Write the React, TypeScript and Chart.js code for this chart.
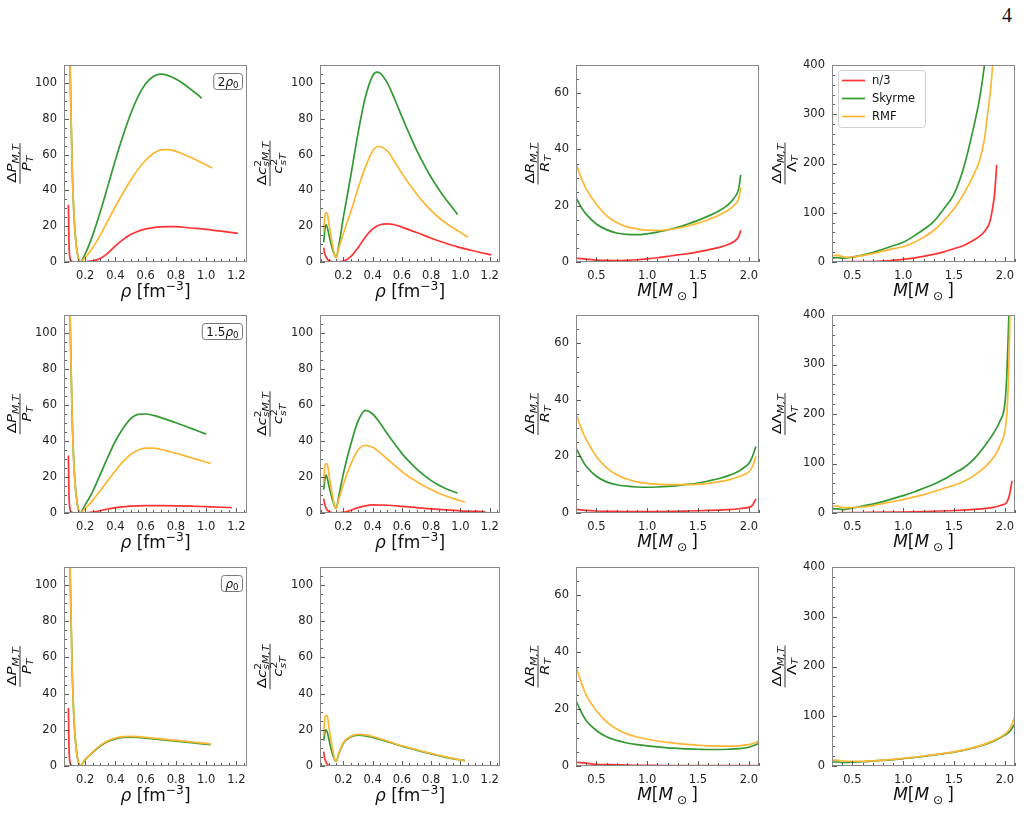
import React, { useEffect, useRef } from 'react';
import { Chart, registerables } from 'chart.js';
Chart.register(...registerables);

const RED = '#ff3333';
const GREEN = '#339933';
const ORANGE = '#ffb733';
const SERIES_NAMES = ['n/3', 'Skyrme', 'RMF'];

const RHO_TICKS = [0.2, 0.4, 0.6, 0.8, 1.0, 1.2];
const MASS_TICKS = [0.5, 1.0, 1.5, 2.0];
const P_TICKS = [0, 20, 40, 60, 80, 100];
const R_TICKS = [0, 20, 40, 60];
const L_TICKS = [0, 100, 200, 300, 400];

// ---------- ΔP/P  (column 1) ----------
const Pa_red_x = [0.089, 0.092, 0.095, 0.1, 0.11, 0.13, 0.16, 0.2, 0.25, 0.3, 0.35, 0.4, 0.45, 0.5, 0.55, 0.6, 0.65, 0.7, 0.75, 0.8, 0.85, 0.9, 1.0, 1.1, 1.21];
const Pa_red_y = [32, 15, 6, 2, 0.5, 0.1, 0, 0.2, 0.6, 2, 5, 9, 12.5, 15.3, 17.2, 18.5, 19.2, 19.6, 19.8, 19.7, 19.4, 19, 18.2, 17.2, 16];
const Pa_sky_x = [0.08, 0.09, 0.1, 0.107, 0.115, 0.125, 0.14, 0.155, 0.165, 0.2, 0.25, 0.3, 0.35, 0.4, 0.45, 0.5, 0.55, 0.6, 0.65, 0.7, 0.75, 0.8, 0.85, 0.9, 0.95, 0.97];
const Pa_sky_y = [300, 180, 110, 80, 50, 28, 10, 2, 0, 4.5, 15, 28, 42.5, 57, 70.5, 82.5, 92.5, 99.5, 103.6, 104.9, 104.1, 102.2, 99.5, 96.3, 93, 91.3];
const Pa_rmf_x = [0.08, 0.09, 0.1, 0.107, 0.115, 0.125, 0.14, 0.155, 0.165, 0.2, 0.25, 0.3, 0.35, 0.4, 0.45, 0.5, 0.55, 0.6, 0.65, 0.7, 0.75, 0.8, 0.85, 0.9, 0.95, 1.0, 1.04];
const Pa_rmf_y = [300, 180, 110, 80, 50, 28, 10, 2, 0, 2.5, 8, 15, 23, 31, 38.5, 45.5, 51.8, 56.8, 60.6, 62.6, 62.8, 61.8, 60.2, 58.3, 56.3, 54.2, 52.5];

const Pb_red_x = [0.089, 0.092, 0.095, 0.1, 0.11, 0.13, 0.16, 0.2, 0.25, 0.3, 0.35, 0.4, 0.5, 0.6, 0.7, 0.8, 0.9, 1.0, 1.1, 1.17];
const Pb_red_y = [32, 15, 6, 2, 0.5, 0.1, 0, 0.1, 0.5, 1.3, 2.2, 3, 3.8, 4.1, 4.1, 4, 3.8, 3.5, 3.2, 3];
const Pb_sky_x = [0.08, 0.09, 0.1, 0.107, 0.115, 0.125, 0.14, 0.155, 0.165, 0.2, 0.25, 0.3, 0.35, 0.4, 0.45, 0.5, 0.55, 0.6, 0.65, 0.7, 0.75, 0.8, 0.85, 0.9, 0.95, 1.0];
const Pb_sky_y = [300, 180, 110, 80, 50, 28, 10, 2, 0, 4.5, 12, 21.5, 31, 40, 47, 52.3, 54.8, 55, 54.2, 53, 51.6, 50.1, 48.6, 47, 45.4, 43.8];
const Pb_rmf_x = [0.08, 0.09, 0.1, 0.107, 0.115, 0.125, 0.14, 0.155, 0.165, 0.2, 0.25, 0.3, 0.35, 0.4, 0.45, 0.5, 0.55, 0.6, 0.65, 0.7, 0.75, 0.8, 0.85, 0.9, 0.95, 1.0, 1.03];
const Pb_rmf_y = [300, 180, 110, 80, 50, 28, 10, 2, 0, 2.5, 7, 12.5, 18, 23.5, 28.5, 32.5, 35, 36, 36, 35.3, 34.3, 33.2, 32, 30.7, 29.5, 28.2, 27.5];

const Pc_red_x = [0.089, 0.092, 0.095, 0.1, 0.11, 0.13, 0.16, 0.3, 0.5, 0.8, 1.0, 1.12];
const Pc_red_y = [32, 15, 6, 2, 0.3, 0, 0, 0, 0, 0, 0, 0];
const Pc_sky_x = [0.08, 0.09, 0.1, 0.107, 0.115, 0.125, 0.14, 0.155, 0.165, 0.2, 0.25, 0.3, 0.35, 0.4, 0.45, 0.5, 0.55, 0.6, 0.7, 0.8, 0.9, 1.0, 1.03];
const Pc_sky_y = [300, 180, 110, 80, 50, 28, 10, 2, 0, 3.5, 7.5, 11, 13.5, 15, 15.8, 16, 15.8, 15.4, 14.6, 13.8, 12.9, 12.1, 11.8];
const Pc_rmf_x = [0.08, 0.09, 0.1, 0.107, 0.115, 0.125, 0.14, 0.155, 0.165, 0.2, 0.25, 0.3, 0.35, 0.4, 0.45, 0.5, 0.55, 0.6, 0.7, 0.8, 0.9, 1.0, 1.03];
const Pc_rmf_y = [300, 180, 110, 80, 50, 28, 10, 2, 0, 3.7, 7.8, 11.4, 13.9, 15.4, 16.2, 16.4, 16.2, 15.8, 15, 14.2, 13.3, 12.5, 12.2];

// ---------- Δc_s²/c_s²  (column 2) ----------
const Ca_red_x = [0.065, 0.07, 0.08, 0.09, 0.1, 0.12, 0.15, 0.2, 0.25, 0.3, 0.35, 0.4, 0.45, 0.5, 0.55, 0.6, 0.7, 0.8, 0.9, 1.0, 1.1, 1.21];
const Ca_red_y = [8, 5.5, 3, 1.5, 0.8, 0.3, 0.1, 0.5, 3, 8, 14, 18.5, 20.8, 21.3, 20.8, 19.5, 16.5, 13.3, 10.5, 8, 6, 4];
const Ca_sky_x = [0.065, 0.075, 0.082, 0.095, 0.11, 0.13, 0.15, 0.17, 0.2, 0.25, 0.3, 0.35, 0.4, 0.43, 0.45, 0.5, 0.55, 0.6, 0.65, 0.7, 0.75, 0.8, 0.85, 0.9, 0.95, 0.98];
const Ca_sky_y = [11, 19, 20.8, 17.5, 12, 6, 2.5, 10, 25, 48, 72, 92, 104, 106, 105.5, 100, 91, 81, 71.5, 62.5, 54.5, 47.2, 40.8, 35, 29.8, 26.5];
const Ca_rmf_x = [0.065, 0.072, 0.08, 0.09, 0.1, 0.12, 0.14, 0.15, 0.17, 0.2, 0.25, 0.3, 0.35, 0.4, 0.44, 0.5, 0.55, 0.6, 0.65, 0.7, 0.75, 0.8, 0.85, 0.9, 0.95, 1.0, 1.05];
const Ca_rmf_y = [17, 25, 27.5, 27, 22, 12, 4, 2.5, 8, 16, 28, 41, 53, 62, 64.5, 62, 56, 49.5, 43.5, 38, 33, 28.7, 25, 21.8, 19, 16.5, 14];

const Cb_red_x = [0.065, 0.07, 0.08, 0.09, 0.1, 0.12, 0.15, 0.2, 0.25, 0.3, 0.35, 0.4, 0.5, 0.6, 0.7, 0.8, 0.9, 1.0, 1.17];
const Cb_red_y = [8, 5.5, 3, 1.5, 0.8, 0.3, 0.1, 0.3, 1.5, 3, 4, 4.5, 4.3, 3.7, 3, 2.3, 1.7, 1.2, 0.7];
const Cb_sky_x = [0.065, 0.075, 0.082, 0.095, 0.11, 0.13, 0.15, 0.17, 0.2, 0.25, 0.3, 0.35, 0.4, 0.45, 0.5, 0.55, 0.6, 0.65, 0.7, 0.75, 0.8, 0.85, 0.9, 0.98];
const Cb_sky_y = [13, 19.5, 21, 17.5, 12, 6, 2.5, 10, 22, 38, 51, 57, 55, 50, 44, 38.5, 33, 28.5, 24.5, 21, 18, 15.5, 13.5, 11];
const Cb_rmf_x = [0.065, 0.072, 0.08, 0.09, 0.1, 0.12, 0.14, 0.15, 0.17, 0.2, 0.25, 0.3, 0.35, 0.4, 0.45, 0.5, 0.55, 0.6, 0.65, 0.7, 0.75, 0.8, 0.85, 0.9, 0.95, 1.03];
const Cb_rmf_y = [17, 25, 27.5, 27, 22, 12, 4, 2.5, 8, 16, 27, 35, 37.5, 36.5, 33.5, 30, 26.5, 23, 20, 17.5, 15, 13, 11, 9.5, 8, 6];

const Cc_red_x = [0.065, 0.07, 0.08, 0.09, 0.1, 0.12, 0.3, 0.6, 1.0, 1.15];
const Cc_red_y = [8, 5, 2.5, 1, 0.4, 0, 0, 0, 0, 0];
const Cc_sky_x = [0.065, 0.075, 0.082, 0.095, 0.11, 0.13, 0.15, 0.17, 0.2, 0.25, 0.3, 0.35, 0.4, 0.5, 0.6, 0.7, 0.8, 0.9, 1.0, 1.03];
const Cc_sky_y = [14, 19, 20, 17, 11.5, 5.5, 2.5, 7, 12.5, 16, 17, 16.7, 15.8, 13.5, 11, 8.8, 6.7, 4.8, 3.3, 3];
const Cc_rmf_x = [0.065, 0.072, 0.08, 0.09, 0.1, 0.12, 0.14, 0.15, 0.17, 0.2, 0.25, 0.3, 0.35, 0.4, 0.5, 0.6, 0.7, 0.8, 0.9, 1.0, 1.03];
const Cc_rmf_y = [17, 26, 28, 27.5, 22, 12, 4, 2.5, 7.5, 13, 16.5, 17.5, 17.2, 16.3, 13.8, 11.2, 9, 6.9, 5, 3.4, 3];

// ---------- ΔR/R  (column 3) ----------
const Ra_x = [0.3, 0.35, 0.4, 0.5, 0.6, 0.7, 0.8, 0.9, 1.0, 1.1, 1.2, 1.3, 1.4, 1.5, 1.6, 1.7, 1.8, 1.85, 1.9, 1.92];
const Ra_red = [1.3, 1.2, 1, 0.7, 0.55, 0.5, 0.6, 0.8, 1.1, 1.5, 2, 2.5, 3, 3.6, 4.3, 5.1, 6.3, 7.2, 9, 11.3];
const Ra_sky = [23, 19.5, 17, 13.5, 11.5, 10.3, 9.8, 9.7, 10, 10.6, 11.4, 12.3, 13.5, 14.8, 16.3, 18, 20.5, 22.5, 26, 31];
const Ra_rmf = [35, 30, 26, 20.5, 16.5, 14, 12.5, 11.8, 11.3, 11.2, 11.5, 12, 12.8, 13.8, 15, 16.5, 18.5, 20, 22.5, 26.5];

const Rb_x = [0.3, 0.35, 0.4, 0.5, 0.6, 0.7, 0.8, 0.9, 1.0, 1.1, 1.2, 1.3, 1.4, 1.5, 1.6, 1.7, 1.8, 1.9, 1.95, 2.0, 2.03, 2.07];
const Rb_red = [1.3, 1.1, 0.9, 0.7, 0.6, 0.55, 0.5, 0.5, 0.5, 0.5, 0.55, 0.6, 0.7, 0.8, 0.9, 1, 1.2, 1.5, 1.7, 2, 2.5, 5];
const Rb_sky = [23, 19.5, 16.5, 13, 11, 10, 9.5, 9.2, 9.1, 9.2, 9.4, 9.7, 10.1, 10.6, 11.3, 12.1, 13.2, 14.8, 16, 17.5, 19.5, 23.5];
const Rb_rmf = [35, 30, 26, 20, 16, 13.5, 12, 11, 10.5, 10.2, 10, 10, 10, 10.2, 10.5, 11, 11.7, 12.8, 13.5, 14.5, 16, 20];

const Rc_x = [0.3, 0.35, 0.4, 0.5, 0.6, 0.7, 0.8, 0.9, 1.0, 1.1, 1.2, 1.3, 1.4, 1.5, 1.6, 1.7, 1.8, 1.9, 2.0, 2.05, 2.1];
const Rc_red = [1.3, 1.2, 1, 0.6, 0.5, 0.4, 0.3, 0.25, 0.2, 0.2, 0.15, 0.15, 0.1, 0.1, 0.1, 0.1, 0.1, 0.1, 0.1, 0.1, 0.1];
const Rc_sky = [23, 19, 16, 12.5, 10.3, 9, 8.1, 7.5, 7.1, 6.7, 6.4, 6.2, 6, 5.9, 5.8, 5.8, 5.9, 6.1, 6.6, 7.2, 8];
const Rc_rmf = [35, 29.5, 25, 19.5, 15.5, 13, 11.3, 10.2, 9.4, 8.8, 8.3, 7.9, 7.6, 7.3, 7.1, 7, 7, 7.1, 7.5, 8, 8.8];

// ---------- ΔΛ/Λ  (column 4) ----------
const La_red_x = [0.3, 0.5, 0.7, 0.8, 0.9, 1.0, 1.1, 1.2, 1.3, 1.4, 1.5, 1.6, 1.7, 1.75, 1.8, 1.85, 1.88, 1.9, 1.92];
const La_red_y = [0.5, 0.6, 1, 2, 3.5, 5.5, 8, 11.5, 15.5, 20.5, 27, 34, 45, 52, 62, 80, 110, 140, 197];
const La_sky_x = [0.3, 0.35, 0.4, 0.45, 0.5, 0.6, 0.7, 0.8, 0.9, 1.0, 1.1, 1.2, 1.3, 1.4, 1.5, 1.6, 1.7, 1.75, 1.8, 1.82];
const La_sky_y = [8, 9, 8, 8.5, 10, 14, 19, 26, 33, 40, 52, 66, 82, 108, 138, 195, 280, 330, 400, 440];
const La_rmf_x = [0.3, 0.35, 0.4, 0.45, 0.5, 0.6, 0.7, 0.8, 0.9, 1.0, 1.1, 1.2, 1.3, 1.4, 1.5, 1.6, 1.7, 1.75, 1.8, 1.83, 1.86, 1.88, 1.9];
const La_rmf_y = [12, 14, 11, 9.5, 10, 13, 17, 22, 27, 31, 39, 50, 64, 84, 108, 140, 180, 205, 250, 300, 350, 400, 460];

const Lb_red_x = [0.3, 0.6, 1.0, 1.3, 1.5, 1.7, 1.8, 1.9, 1.97, 2.02, 2.05, 2.07];
const Lb_red_y = [0.5, 1, 2, 3.5, 5, 7.5, 9, 12, 16, 22, 40, 65];
const Lb_sky_x = [0.3, 0.35, 0.4, 0.5, 0.6, 0.7, 0.8, 0.9, 1.0, 1.1, 1.2, 1.3, 1.4, 1.5, 1.6, 1.7, 1.8, 1.9, 1.95, 2.0, 2.02, 2.04];
const Lb_sky_y = [8, 8.5, 7, 10, 14, 18, 23, 29, 35, 42, 50, 58, 68, 80, 92, 110, 135, 165, 185, 220, 280, 400];
const Lb_rmf_x = [0.3, 0.35, 0.4, 0.5, 0.6, 0.7, 0.8, 0.9, 1.0, 1.1, 1.2, 1.3, 1.4, 1.5, 1.6, 1.7, 1.8, 1.9, 1.95, 2.0, 2.02, 2.04, 2.05];
const Lb_rmf_y = [13, 14, 11, 11, 12.5, 15, 19, 23, 27, 32, 37, 43, 50, 56, 64, 76, 92, 115, 135, 165, 200, 300, 400];

const Lc_x = [0.3, 0.35, 0.4, 0.5, 0.6, 0.7, 0.8, 0.9, 1.0, 1.1, 1.2, 1.3, 1.4, 1.5, 1.6, 1.7, 1.8, 1.9, 2.0, 2.05, 2.1];
const Lc_red = [0.5, 0.5, 0.5, 0.5, 0.5, 0.5, 0.5, 0.5, 0.5, 0.5, 0.5, 0.5, 0.5, 0.5, 0.5, 0.5, 0.5, 0.5, 0.5, 0.5, 0.5];
const Lc_sky = [8, 8, 7, 7.5, 8.5, 10, 11.5, 13, 15, 17, 19.5, 22, 25, 28, 32, 37, 43, 51, 62, 70, 85];
const Lc_rmf = [12, 12, 10, 9.5, 9.5, 10.5, 12, 13.5, 15.5, 17.5, 20, 22.5, 25.5, 28.5, 32.5, 37.5, 44, 52, 64, 75, 100];

// ---------------------------------------------------------------
type Run = { t: string; it?: boolean; sc?: number; dy?: number; noAdv?: boolean };
const FONT = '"DejaVu Sans"';
const fnt = (size: number, it?: boolean) => `${it ? 'italic ' : ''}${size}px ${FONT}`;

function runsWidth(ctx: CanvasRenderingContext2D, runs: Run[], size: number) {
  let w = 0;
  for (const r of runs) {
    ctx.font = fnt(size * (r.sc ?? 1), r.it);
    if (!r.noAdv) w += ctx.measureText(r.t).width;
  }
  return w;
}
function drawRuns(ctx: CanvasRenderingContext2D, runs: Run[], x: number, y: number, size: number, align: 'left' | 'center') {
  const w = runsWidth(ctx, runs, size);
  let cx = align === 'center' ? x - w / 2 : x;
  ctx.textAlign = 'left';
  ctx.textBaseline = 'alphabetic';
  for (const r of runs) {
    ctx.font = fnt(size * (r.sc ?? 1), r.it);
    ctx.fillText(r.t, cx, y + (r.dy ?? 0) * size);
    if (!r.noAdv) cx += ctx.measureText(r.t).width;
  }
  return w;
}

const SUB = 0.72;
const YLAB: Record<string, { num: Run[]; den: Run[] }> = {
  P: {
    num: [{ t: 'Δ' }, { t: 'P', it: true }, { t: 'M,T', it: true, sc: SUB, dy: 0.22 }],
    den: [{ t: 'P', it: true }, { t: 'T', it: true, sc: SUB, dy: 0.22 }],
  },
  C: {
    num: [{ t: 'Δ' }, { t: 'c', it: true }, { t: '2', sc: SUB, dy: -0.42, noAdv: true }, { t: 'sM,T', it: true, sc: SUB, dy: 0.25 }],
    den: [{ t: 'c', it: true }, { t: '2', sc: SUB, dy: -0.42, noAdv: true }, { t: 'sT', it: true, sc: SUB, dy: 0.25 }],
  },
  R: {
    num: [{ t: 'Δ' }, { t: 'R', it: true }, { t: 'M,T', it: true, sc: SUB, dy: 0.22 }],
    den: [{ t: 'R', it: true }, { t: 'T', it: true, sc: SUB, dy: 0.22 }],
  },
  L: {
    num: [{ t: 'ΔΛ' }, { t: 'M,T', it: true, sc: SUB, dy: 0.22 }],
    den: [{ t: 'Λ' }, { t: 'T', it: true, sc: SUB, dy: 0.22 }],
  },
};
const XLAB_RHO: Run[] = [{ t: 'ρ', it: true }, { t: ' [fm' }, { t: '−3', sc: SUB, dy: -0.4 }, { t: ']' }];
const XLAB_M: Run[] = [{ t: 'M', it: true }, { t: '[' }, { t: 'M', it: true }, { t: ' ⊙ ', sc: SUB, dy: 0.22 }, { t: ']' }];
const TAGS: Run[][] = [
  [{ t: '2' }, { t: 'ρ', it: true }, { t: '0', sc: SUB, dy: 0.22 }],
  [{ t: '1.5' }, { t: 'ρ', it: true }, { t: '0', sc: SUB, dy: 0.22 }],
  [{ t: 'ρ', it: true }, { t: '0', sc: SUB, dy: 0.22 }],
];

const ROW_T = [65, 315, 567];
const ROW_H = [197, 198, 199];
const COL_L = [64, 320, 576, 832];
const COL_W = [183, 180, 183, 183];
const PAD_L = 70, PAD_T = 8, PAD_R = 8, PAD_B = 48;

type PanelDef = {
  row: number; col: number; kind: 'P' | 'C' | 'R' | 'L';
  xmin: number; xmax: number; ymax: number;
  xt: number[]; xMinor: number; yt: number[]; yMinor: number;
  series: { x: number[]; y: number[] }[];
  ylabOff: number;
};

function colDef(col: number) {
  if (col === 0) return { kind: 'P' as const, xmin: 0.06, xmax: 1.27, ymax: 110, xt: RHO_TICKS, xMinor: 0.05, yt: P_TICKS, yMinor: 5, ylabOff: 44 };
  if (col === 1) return { kind: 'C' as const, xmin: 0.04, xmax: 1.27, ymax: 110, xt: RHO_TICKS, xMinor: 0.05, yt: P_TICKS, yMinor: 5, ylabOff: 50 };
  if (col === 2) return { kind: 'R' as const, xmin: 0.3, xmax: 2.1, ymax: 70, xt: MASS_TICKS, xMinor: 0.1, yt: R_TICKS, yMinor: 5, ylabOff: 38 };
  return { kind: 'L' as const, xmin: 0.3, xmax: 2.1, ymax: 400, xt: MASS_TICKS, xMinor: 0.1, yt: L_TICKS, yMinor: 20, ylabOff: 47 };
}

const SERIES: { x: number[]; y: number[] }[][][] = [
  [
    [{ x: Pa_red_x, y: Pa_red_y }, { x: Pa_sky_x, y: Pa_sky_y }, { x: Pa_rmf_x, y: Pa_rmf_y }],
    [{ x: Ca_red_x, y: Ca_red_y }, { x: Ca_sky_x, y: Ca_sky_y }, { x: Ca_rmf_x, y: Ca_rmf_y }],
    [{ x: Ra_x, y: Ra_red }, { x: Ra_x, y: Ra_sky }, { x: Ra_x, y: Ra_rmf }],
    [{ x: La_red_x, y: La_red_y }, { x: La_sky_x, y: La_sky_y }, { x: La_rmf_x, y: La_rmf_y }],
  ],
  [
    [{ x: Pb_red_x, y: Pb_red_y }, { x: Pb_sky_x, y: Pb_sky_y }, { x: Pb_rmf_x, y: Pb_rmf_y }],
    [{ x: Cb_red_x, y: Cb_red_y }, { x: Cb_sky_x, y: Cb_sky_y }, { x: Cb_rmf_x, y: Cb_rmf_y }],
    [{ x: Rb_x, y: Rb_red }, { x: Rb_x, y: Rb_sky }, { x: Rb_x, y: Rb_rmf }],
    [{ x: Lb_red_x, y: Lb_red_y }, { x: Lb_sky_x, y: Lb_sky_y }, { x: Lb_rmf_x, y: Lb_rmf_y }],
  ],
  [
    [{ x: Pc_red_x, y: Pc_red_y }, { x: Pc_sky_x, y: Pc_sky_y }, { x: Pc_rmf_x, y: Pc_rmf_y }],
    [{ x: Cc_red_x, y: Cc_red_y }, { x: Cc_sky_x, y: Cc_sky_y }, { x: Cc_rmf_x, y: Cc_rmf_y }],
    [{ x: Rc_x, y: Rc_red }, { x: Rc_x, y: Rc_sky }, { x: Rc_x, y: Rc_rmf }],
    [{ x: Lc_x, y: Lc_red }, { x: Lc_x, y: Lc_sky }, { x: Lc_x, y: Lc_rmf }],
  ],
];

const COLORS = [RED, GREEN, ORANGE];

function roundRect(ctx: CanvasRenderingContext2D, x: number, y: number, w: number, h: number, r: number) {
  ctx.beginPath();
  ctx.moveTo(x + r, y);
  ctx.lineTo(x + w - r, y);
  ctx.quadraticCurveTo(x + w, y, x + w, y + r);
  ctx.lineTo(x + w, y + h - r);
  ctx.quadraticCurveTo(x + w, y + h, x + w - r, y + h);
  ctx.lineTo(x + r, y + h);
  ctx.quadraticCurveTo(x, y + h, x, y + h - r);
  ctx.lineTo(x, y + r);
  ctx.quadraticCurveTo(x, y, x + r, y);
  ctx.closePath();
}

function decorate(chart: any, p: PanelDef) {
  const ctx: CanvasRenderingContext2D = chart.ctx;
  const a = chart.chartArea;
  const xs = chart.scales.x, ys = chart.scales.y;
  ctx.save();
  // ticks (inward)
  ctx.strokeStyle = '#333';
  ctx.lineWidth = 0.8;
  ctx.beginPath();
  for (let k = Math.ceil(p.xmin / p.xMinor - 1e-6); k * p.xMinor <= p.xmax + 1e-9; k++) {
    const v = k * p.xMinor;
    const major = p.xt.some((t) => Math.abs(t - v) < 1e-6);
    const px = Math.round(xs.getPixelForValue(v)) + 0.5;
    ctx.moveTo(px, a.bottom);
    ctx.lineTo(px, a.bottom - (major ? 5 : 3));
  }
  for (let k = 0; k * p.yMinor <= p.ymax + 1e-9; k++) {
    const v = k * p.yMinor;
    const major = p.yt.some((t) => Math.abs(t - v) < 1e-6);
    const py = Math.round(ys.getPixelForValue(v)) + 0.5;
    ctx.moveTo(a.left, py);
    ctx.lineTo(a.left + (major ? 5 : 3), py);
  }
  ctx.stroke();
  // frame
  ctx.strokeStyle = '#888';
  ctx.lineWidth = 1;
  ctx.strokeRect(a.left + 0.5, a.top + 0.5, a.right - a.left - 1, a.bottom - a.top - 1);

  ctx.fillStyle = '#111';
  // x label
  const cxp = (a.left + a.right) / 2;
  if (p.kind === 'P' || p.kind === 'C') drawRuns(ctx, XLAB_RHO, cxp, a.bottom + 35, 17, 'center');
  else drawRuns(ctx, XLAB_M, cxp, a.bottom + 34, 17, 'center');

  // y label (fraction, rotated)
  const lab = YLAB[p.kind];
  const fs = 15;
  ctx.save();
  ctx.translate(a.left - p.ylabOff, (a.top + a.bottom) / 2);
  ctx.rotate(-Math.PI / 2);
  ctx.scale(1, 0.85);
  const wn = runsWidth(ctx, lab.num, fs);
  const wd = runsWidth(ctx, lab.den, fs);
  const lw = Math.max(wn, wd) + 2;
  drawRuns(ctx, lab.num, 0, -4.5, fs, 'center');
  drawRuns(ctx, lab.den, 0, p.kind === 'C' ? 14.5 : 12.5, fs, 'center');
  ctx.fillRect(-lw / 2, -0.5, lw, 1);
  ctx.restore();

  // tag box (first column)
  if (p.col === 0) {
    const runs = TAGS[p.row];
    const ts = 12;
    const tw = runsWidth(ctx, runs, ts);
    const bw = tw + 8, bh = 16;
    const bx = a.right - 5 - bw, by = a.top + 8;
    roundRect(ctx, bx + 0.5, by + 0.5, bw, bh, 3);
    ctx.fillStyle = '#fff';
    ctx.fill();
    ctx.strokeStyle = '#777';
    ctx.lineWidth = 1;
    ctx.stroke();
    ctx.fillStyle = '#111';
    drawRuns(ctx, runs, bx + 4.5, by + 12.5, ts, 'left');
  }

  // legend (top-right panel)
  if (p.row === 0 && p.col === 3) {
    const bx = a.left + 6, by = a.top + 5, bw = 87, bh = 57;
    roundRect(ctx, bx + 0.5, by + 0.5, bw, bh, 3);
    ctx.fillStyle = 'rgba(255,255,255,0.85)';
    ctx.fill();
    ctx.strokeStyle = '#d0d0d0';
    ctx.lineWidth = 1;
    ctx.stroke();
    SERIES_NAMES.forEach((name, i) => {
      const yy = by + 10 + i * 18;
      ctx.strokeStyle = COLORS[i];
      ctx.lineWidth = 1.7;
      ctx.beginPath();
      ctx.moveTo(bx + 4, yy + 0.5);
      ctx.lineTo(bx + 27, yy + 0.5);
      ctx.stroke();
      ctx.fillStyle = '#111';
      ctx.font = fnt(11.5);
      ctx.textAlign = 'left';
      ctx.textBaseline = 'middle';
      ctx.fillText(name, bx + 34, yy + 1);
    });
  }
  ctx.restore();
}

function Panel({ row, col }: { row: number; col: number }) {
  const ref = useRef<HTMLCanvasElement>(null);
  const cd = colDef(col);
  const p: PanelDef = { row, col, ...cd, series: SERIES[row][col] };
  const W = COL_W[col] + PAD_L + PAD_R;
  const H = ROW_H[row] + PAD_T + PAD_B;
  useEffect(() => {
    const datasets = p.series.map((s, i) => ({
      label: SERIES_NAMES[i],
      data: s.x.map((x, j) => ({ x, y: s.y[j] })),
      borderColor: COLORS[i],
      backgroundColor: COLORS[i],
      borderWidth: 1.7,
      pointRadius: 0,
      fill: false,
      cubicInterpolationMode: 'monotone' as const,
      order: i === 0 ? 0 : i === 1 ? 2 : 1,
    }));
    const tickFont = { family: 'DejaVu Sans', size: 11.5 };
    const chart = new Chart(ref.current!, {
      type: 'line',
      data: { datasets },
      plugins: [{ id: 'deco', afterDraw: (c: any) => decorate(c, p) }],
      options: {
        animation: false,
        responsive: false,
        events: [],
        layout: { padding: { left: 0, top: PAD_T, right: PAD_R, bottom: 0 } },
        plugins: { legend: { display: false }, tooltip: { enabled: false } },
        scales: {
          x: {
            type: 'linear',
            min: p.xmin,
            max: p.xmax,
            grid: { display: false, drawTicks: false },
            border: { display: false },
            afterBuildTicks: (s: any) => { s.ticks = p.xt.map((v) => ({ value: v })); },
            afterFit: (s: any) => { s.height = PAD_B; s.paddingLeft = 0; s.paddingRight = 0; s.paddingTop = 0; s.paddingBottom = 0; },
            ticks: { padding: 7, color: '#222', font: tickFont, maxRotation: 0, autoSkip: false, callback: (v: any) => Number(v).toFixed(1) },
          },
          y: {
            type: 'linear',
            min: 0,
            max: p.ymax,
            grid: { display: false, drawTicks: false },
            border: { display: false },
            afterBuildTicks: (s: any) => { s.ticks = p.yt.map((v) => ({ value: v })); },
            afterFit: (s: any) => { s.width = PAD_L; s.paddingTop = 0; s.paddingBottom = 0; s.paddingLeft = 0; s.paddingRight = 0; },
            ticks: { padding: 7, color: '#222', font: tickFont, autoSkip: false, callback: (v: any) => String(v) },
          },
        },
      },
    } as any);
    return () => chart.destroy();
  }, []);
  return (
    <canvas
      ref={ref}
      width={W}
      height={H}
      style={{ position: 'absolute', left: COL_L[col] - PAD_L, top: ROW_T[row] - PAD_T, width: W, height: H }}
    />
  );
}

export default function App() {
  const panels = [];
  for (let r = 0; r < 3; r++) for (let c = 0; c < 4; c++) panels.push(<Panel key={`${r}-${c}`} row={r} col={c} />);
  return (
    <div style={{ position: 'absolute', left: 0, top: 0, width: 1024, height: 836, background: '#fff', overflow: 'hidden' }}>
      <div style={{ position: 'absolute', left: 1002, top: 4, fontFamily: '"Liberation Serif", "DejaVu Serif", serif', fontSize: 20, color: '#111' }}>4</div>
      {panels}
    </div>
  );
}
